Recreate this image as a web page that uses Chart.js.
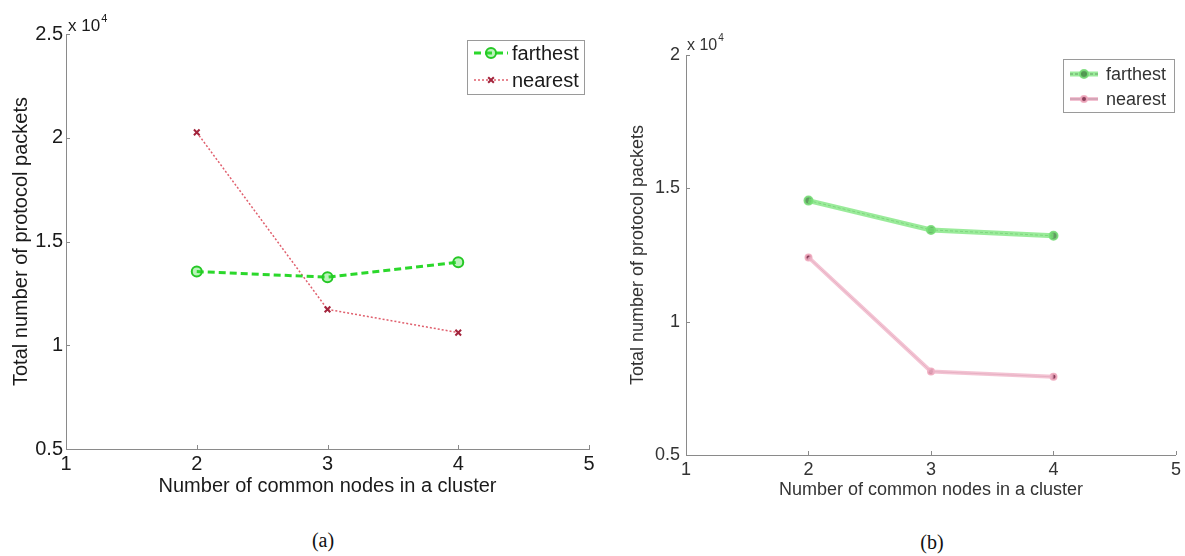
<!DOCTYPE html>
<html>
<head>
<meta charset="utf-8">
<script src="https://cdn.jsdelivr.net/npm/chart.js@4.4.0/dist/chart.umd.min.js"></script>
<style>
  body { margin: 0; background: #fff; width: 1185px; height: 556px; overflow: hidden; position: relative; }
  .panel { position: absolute; top: 0; }
  .cap { position: absolute; font: 20px "Liberation Serif", "Times New Roman", serif; color: #111; transform: translate(-50%, -50%); }
</style>
</head>
<body>
<div class="panel" style="left:0;width:600px;height:510px"><canvas id="chartA"></canvas></div>
<div class="panel" style="left:593px;width:592px;height:515px"><canvas id="chartB"></canvas></div>
<div class="cap" style="left:323px;top:540px">(a)</div>
<div class="cap" style="left:932px;top:542px">(b)</div>
<script>
// data (packets)
const nodes = [2, 3, 4];
const farthestA = [13550, 13280, 14000];
const nearestA = [20260, 11730, 10610];
const farthestB = [14540, 13440, 13220];
const nearestB = [12410, 8130, 7930];
const xTicks = [1, 2, 3, 4, 5];
const yTicksA = [5000, 10000, 15000, 20000, 25000];
const yTicksB = [5000, 10000, 15000, 20000];

const fam = '"Liberation Sans", Arial, sans-serif';
const axisGray = '#8a8a8a';

function pts(ys) {
    return nodes.map((x, i) => ({x: x, y: ys[i]}));
}

// inward ticks, the "x 10^4" exponent and a boxed legend
const extras = {
    id: 'extras',
    afterDraw(chart, args, o) {
        const ctx = chart.ctx, xs = chart.scales.x, ys = chart.scales.y, a = chart.chartArea;
        ctx.save();
        ctx.strokeStyle = axisGray;
        ctx.lineWidth = 1;
        ctx.beginPath();
        xs.ticks.forEach(t => {
            const px = Math.round(xs.getPixelForValue(t.value)) + 0.5;
            ctx.moveTo(px, a.bottom);
            ctx.lineTo(px, a.bottom - 4);
        });
        ys.ticks.forEach(t => {
            const py = Math.round(ys.getPixelForValue(t.value)) + 0.5;
            ctx.moveTo(a.left, py);
            ctx.lineTo(a.left + 4, py);
        });
        ctx.stroke();

        ctx.fillStyle = o.textColor;
        ctx.textAlign = 'left';
        ctx.textBaseline = 'alphabetic';
        ctx.font = o.expFont + 'px ' + fam;
        ctx.fillText('x 10', o.expX, o.expY);
        const w = ctx.measureText('x 10').width;
        ctx.font = Math.round(o.expFont * 0.65) + 'px ' + fam;
        ctx.fillText('4', o.expX + w + 1, o.expY - o.expFont * 0.55);

        const L = o.legend;
        ctx.fillStyle = '#fff';
        ctx.fillRect(L.x, L.y, L.w, L.h);
        ctx.strokeStyle = '#9a9a9a';
        ctx.strokeRect(L.x + 0.5, L.y + 0.5, L.w, L.h);
        L.items.forEach((it, k) => {
            const y = L.y + L.first + k * L.step;
            it.sets.forEach(i => {
                const ds = chart.data.datasets[i];
                ctx.save();
                ctx.strokeStyle = ds.borderColor;
                ctx.lineWidth = ds.borderWidth;
                ctx.setLineDash(ds.borderDash || []);
                ctx.beginPath();
                ctx.moveTo(L.x + L.lineX0, y);
                ctx.lineTo(L.x + L.lineX1, y);
                ctx.stroke();
                ctx.setLineDash([]);
                if (ds.pointRadius > 0) {
                    ctx.strokeStyle = ds.pointBorderColor;
                    ctx.fillStyle = ds.pointBackgroundColor || 'rgba(0,0,0,0)';
                    ctx.lineWidth = ds.pointBorderWidth;
                    Chart.helpers.drawPoint(ctx, {
                        pointStyle: ds.pointStyle, radius: ds.pointRadius,
                        rotation: 0, borderWidth: ds.pointBorderWidth
                    }, L.x + (L.lineX0 + L.lineX1) / 2, y);
                }
                ctx.restore();
            });
            ctx.fillStyle = o.textColor;
            ctx.font = L.font + 'px ' + fam;
            ctx.textBaseline = 'middle';
            ctx.fillText(it.label, L.x + L.textX, y + 1);
        });
        ctx.restore();
    }
};

function makePanel(id, p) {
    new Chart(document.getElementById(id), {
        type: 'line',
        data: {datasets: p.datasets},
        options: {
            responsive: true,
            maintainAspectRatio: false,
            animation: false,
            layout: {padding: {top: p.area.top, right: p.width - p.area.right, left: 0, bottom: 0}},
            plugins: {
                legend: {display: false},
                tooltip: {enabled: false},
                extras: p.extras
            },
            scales: {
                x: {
                    type: 'linear', min: 1, max: 5,
                    afterBuildTicks: s => { s.ticks = xTicks.map(v => ({value: v})); },
                    afterFit: s => { s.height = p.height - p.area.bottom; },
                    grid: {display: false, drawTicks: false},
                    border: {display: true, color: axisGray, width: 1},
                    ticks: {color: p.textColor, padding: p.xTickPad, maxRotation: 0,
                        font: {size: p.font, family: fam}},
                    title: {display: true, text: 'Number of common nodes in a cluster',
                        color: p.textColor, font: {size: p.font, family: fam},
                        padding: {top: 0, bottom: p.xTitlePad}}
                },
                y: {
                    min: p.yTicks[0], max: p.yTicks[p.yTicks.length - 1],
                    afterBuildTicks: s => { s.ticks = p.yTicks.map(v => ({value: v})); },
                    afterFit: s => { s.width = p.area.left; },
                    grid: {display: false, drawTicks: false},
                    border: {display: true, color: axisGray, width: 1},
                    ticks: {color: p.textColor, padding: p.yTickPad,
                        callback: v => v / 10000,
                        font: {size: p.font, family: fam}},
                    title: {display: true, text: 'Total number of protocol packets',
                        color: p.textColor, font: {size: p.font, family: fam},
                        padding: {top: p.yTitlePad, bottom: 0}}
                }
            }
        },
        plugins: [extras]
    });
}

makePanel('chartA', {
    width: 600, height: 510,
    area: {left: 66, top: 34, right: 589, bottom: 449},
    font: 20, textColor: '#1a1a1a',
    xTickPad: 3, xTitlePad: 12, yTickPad: 3, yTitlePad: 9,
    yTicks: yTicksA,
    datasets: [{
        label: 'farthest', data: pts(farthestA),
        borderColor: '#2bd82b', borderWidth: 3, borderDash: [7, 4],
        pointStyle: 'circle', pointRadius: 5, pointBorderWidth: 2,
        pointBorderColor: '#25c825', pointBackgroundColor: 'rgba(60,220,60,0.35)'
    }, {
        label: 'nearest', data: pts(nearestA),
        borderColor: '#e0606e', borderWidth: 1.5, borderDash: [2, 2],
        pointStyle: 'crossRot', pointRadius: 4, pointBorderWidth: 2,
        pointBorderColor: '#a3243c', pointBackgroundColor: '#a3243c'
    }],
    extras: {
        textColor: '#1a1a1a', expX: 68, expY: 31, expFont: 17,
        legend: {x: 467, y: 40, w: 117, h: 54, first: 13, step: 27,
            lineX0: 7, lineX1: 41, textX: 45, font: 20,
            items: [{label: 'farthest', sets: [0]}, {label: 'nearest', sets: [1]}]}
    }
});

makePanel('chartB', {
    width: 592, height: 515,
    area: {left: 93, top: 55, right: 585, bottom: 455},
    font: 18, textColor: '#333',
    xTickPad: 4, xTitlePad: 14, yTickPad: 6, yTitlePad: 34,
    yTicks: yTicksB,
    datasets: [{
        label: 'farthest', data: pts(farthestB),
        borderColor: 'rgba(120,228,120,0.75)', borderWidth: 5, pointRadius: 0
    }, {
        label: 'farthest', data: pts(farthestB),
        borderColor: 'rgba(70,110,70,0.6)', borderWidth: 1, borderDash: [3, 2],
        pointStyle: 'circle', pointRadius: 4, pointBorderWidth: 2,
        pointBorderColor: 'rgba(120,220,120,0.9)', pointBackgroundColor: 'rgba(70,140,70,0.85)'
    }, {
        label: 'nearest', data: pts(nearestB),
        borderColor: 'rgba(240,180,200,0.8)', borderWidth: 4, pointRadius: 0
    }, {
        label: 'nearest', data: pts(nearestB),
        borderColor: 'rgba(140,90,110,0.55)', borderWidth: 1,
        pointStyle: 'circle', pointRadius: 3, pointBorderWidth: 2,
        pointBorderColor: 'rgba(240,170,190,0.9)', pointBackgroundColor: '#8a3d5a'
    }],
    extras: {
        textColor: '#333', expX: 94, expY: 50, expFont: 16,
        legend: {x: 470, y: 59, w: 111, h: 53, first: 15, step: 25,
            lineX0: 7, lineX1: 35, textX: 43, font: 18,
            items: [{label: 'farthest', sets: [0, 1]}, {label: 'nearest', sets: [2, 3]}]}
    }
});
</script>
</body>
</html>
